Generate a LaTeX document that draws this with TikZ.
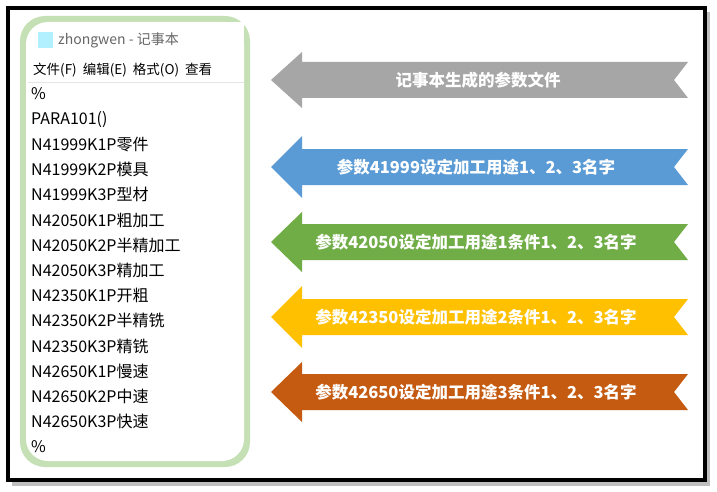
\documentclass[tikz,border=0pt]{standalone}
\usepackage{fontspec}
\setmainfont{Noto Sans CJK SC}
\usetikzlibrary{positioning}
\definecolor{notegreen}{RGB}{197,224,180}
\definecolor{bgray}{RGB}{166,166,166}
\definecolor{bblue}{RGB}{91,155,213}
\definecolor{bgreen}{RGB}{112,173,71}
\definecolor{byellow}{RGB}{255,192,0}
\definecolor{borange}{RGB}{197,90,17}
\begin{document}
\begin{tikzpicture}[x=1pt,y=-1pt,
  line/.style={anchor=west, inner sep=0pt, font=\fontsize{16}{16}\selectfont},
  label/.style={text=white, font=\fontsize{16.5}{16.5}\selectfont\bfseries, inner sep=0pt}
]
\useasboundingbox (0,0) rectangle (717,492);
% frame
\fill[black!25] (12,12) rectangle (710,486);
\draw[line width=4pt, fill=white] (8,8) rectangle (705,480);
% notepad panel
\fill[notegreen, rounded corners=25pt] (20,16) rectangle (250,467);
\fill[white, rounded corners=22pt] (26,22) rectangle (244,461);
\fill[white] (200,22) rectangle (244,60);
\fill[blue!20!cyan!30] (38,32) rectangle (53,48);
\node[line, text=black!60, font=\fontsize{14}{14}\selectfont] (title) at (58,40) {zhongwen - 记事本};
\node[line, font=\fontsize{13.5}{13.5}\selectfont] (menu) at (33,70) {文件(F)\ \ 编辑(E)\ \ 格式(O)\ \ 查看};
\draw[black!10] (28,82) -- (244,82);
\foreach \t [count=\i from 0] in {\%, PARA101(), N41999K1P零件, N41999K2P模具,
  N41999K3P型材, N42050K1P粗加工, N42050K2P半精加工, N42050K3P精加工,
  N42350K1P开粗, N42350K2P半精铣, N42350K3P精铣, N42650K1P慢速,
  N42650K2P中速, N42650K3P快速, \%}
  \node[line] (l\i) at (31,{94+25.2*\i}) {\t};
% banners
\foreach \c/\y/\h/\x/\txt [count=\k] in {
  bgray/80/28/478/记事本生成的参数文件,
  bblue/167/31/476/参数41999设定加工用途1、2、3名字,
  bgreen/242/30/476/参数42050设定加工用途1条件1、2、3名字,
  byellow/317/31/476/参数42350设定加工用途2条件1、2、3名字,
  borange/392/30/476/参数42650设定加工用途3条件1、2、3名字} {
  \fill[\c] (271,\y) -- (302,\y-\h) -- (302,\y-18) -- (688,\y-18)
    -- (674,\y) -- (688,\y+18) -- (302,\y+18) -- (302,\y+\h) -- cycle;
  \node[label] (b\k) at (\x,\y) {\txt};
}
\end{tikzpicture}
\end{document}
